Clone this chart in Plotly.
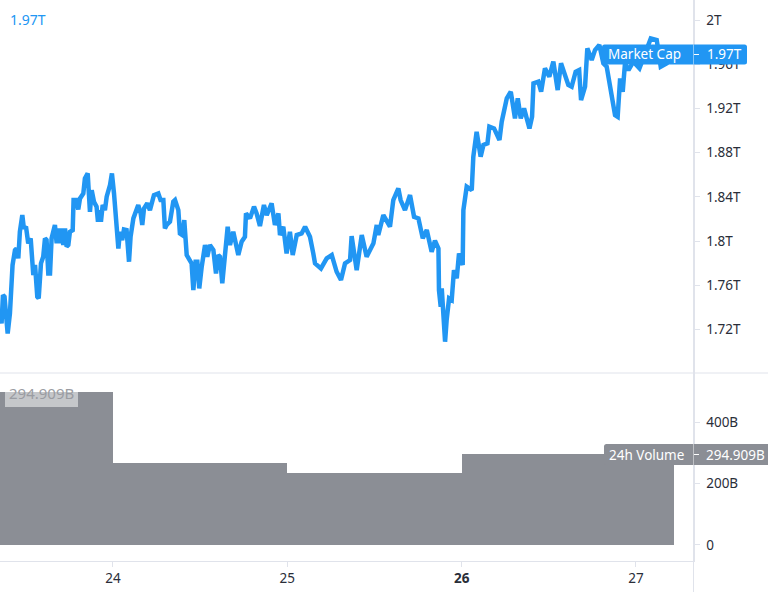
import plotly.graph_objects as go

W, H = 768, 592

cap_days = [23.352,23.361,23.369,23.378,23.386,23.396,23.409,23.421,23.424,23.438,23.447,23.457,23.466,23.480,23.489,23.501,23.514,23.528,23.537,23.543,23.553,23.566,23.574,23.581,23.587,23.600,23.610,23.619,23.629,23.639,23.648,23.667,23.677,23.686,23.696,23.705,23.715,23.725,23.734,23.744,23.753,23.769,23.774,23.788,23.801,23.811,23.830,23.839,23.855,23.868,23.878,23.891,23.906,23.914,23.925,23.931,23.941,23.954,23.964,23.983,23.994,24.006,24.015,24.031,24.040,24.053,24.063,24.078,24.092,24.101,24.117,24.126,24.145,24.159,24.168,24.178,24.197,24.212,24.235,24.260,24.273,24.289,24.298,24.308,24.327,24.346,24.356,24.375,24.384,24.398,24.409,24.423,24.451,24.461,24.474,24.484,24.495,24.509,24.528,24.541,24.556,24.576,24.591,24.604,24.614,24.627,24.643,24.658,24.671,24.690,24.719,24.738,24.757,24.763,24.786,
24.809,24.824,24.843,24.866,24.882,24.910,24.929,24.949,24.958,24.977,24.996,25.015,25.031,25.054,25.082,25.102,25.130,25.149,25.159,25.193,25.226,25.255,25.283,25.308,25.331,25.360,25.369,25.398,25.427,25.455,25.494,25.513,25.522,25.551,25.589,25.608,25.637,25.650,25.675,25.704,25.727,25.752,25.777,25.800,25.828,25.847,25.867,25.870,25.880,25.886,25.905,25.914,25.928,25.943,25.956,25.972,25.985,26.006,26.010,26.029,26.058,
26.067,26.086,26.109,26.125,26.148,26.159,26.186,26.201,26.217,26.230,26.259,26.282,26.306,26.322,26.339,26.358,26.389,26.404,26.412,26.440,26.456,26.478,26.503,26.526,26.551,26.570,26.593,26.612,26.631,26.654,26.674,26.685,26.708,26.721,26.746,26.765,26.790,26.813,26.832,26.855,26.880,26.895,26.909,26.924,26.937,26.957,26.985,27.020,27.043,27.085,27.119,27.142,27.177,27.215]

market_cap_t = [1.7345,1.7255,1.7511,1.7496,1.7345,1.7164,1.7345,1.7692,1.7783,1.7918,1.7933,1.7843,1.8084,1.8235,1.8114,1.8130,1.7979,1.8024,1.7798,1.7692,1.7783,1.7496,1.7481,1.7662,1.7798,1.7858,1.8024,1.8009,1.7707,1.7707,1.8024,1.8145,1.7979,1.8114,1.7979,1.8114,1.7964,1.8114,1.7949,1.7964,1.8084,1.8099,1.8371,1.8371,1.8286,1.8386,1.8431,1.8567,1.8612,1.8265,1.8461,1.8356,1.8311,1.8175,1.8280,1.8175,1.8326,1.8280,1.8401,1.8507,1.8612,1.8431,1.8190,1.7933,1.8084,1.8009,1.8105,1.8099,1.7813,1.8039,1.8205,1.8250,1.8326,1.8250,1.8145,1.8295,1.8341,1.8280,1.8416,1.8431,1.8371,1.8371,1.8114,1.8145,1.8175,1.8356,1.8371,1.8280,1.8069,1.8054,1.8190,1.7873,1.7798,1.7556,1.7813,1.7813,1.7571,1.7767,1.7964,1.7858,1.7964,1.7918,1.7707,1.7873,1.7858,1.7617,1.7949,1.8130,1.7964,1.8084,1.7873,1.7994,1.8039,1.8250,1.8205,
1.8311,1.8250,1.8136,1.8326,1.8235,1.8341,1.8145,1.8250,1.8054,1.8130,1.7888,1.8084,1.7873,1.8054,1.8069,1.8130,1.8039,1.7888,1.7798,1.7752,1.7843,1.7873,1.7722,1.7647,1.7798,1.7828,1.8045,1.7737,1.8054,1.7858,1.7979,1.8145,1.8054,1.8235,1.8130,1.8371,1.8477,1.8371,1.8280,1.8416,1.8220,1.8205,1.8024,1.8099,1.7903,1.8003,1.7933,1.7556,1.7406,1.7571,1.7089,1.7285,1.7481,1.7466,1.7737,1.7662,1.7888,1.7783,1.8280,1.8492,1.8461,
1.8763,1.8989,1.8763,1.8869,1.8884,1.9035,1.9019,1.8959,1.8914,1.9080,1.9291,1.9351,1.9110,1.9291,1.9110,1.9200,1.9019,1.9125,1.9427,1.9442,1.9351,1.9563,1.9487,1.9623,1.9366,1.9608,1.9487,1.9412,1.9397,1.9532,1.9547,1.9276,1.9397,1.9744,1.9638,1.9728,1.9774,1.9608,1.9578,1.9382,1.9140,1.9125,1.9472,1.9351,1.9608,1.9547,1.9623,1.9563,1.9668,1.9834,1.9819,1.9578,1.9608,1.9698]

volume_days = [23, 24, 25, 26, 27]
volume_spans = [1, 1, 1, 1, 0.218]
volume_b = [499, 267.5, 235, 294.9, 294.9]

day_ticks = [24, 25, 26, 27]
day_labels = ["24", "25", "<b>26</b>", "27"]
cap_ticks = [1.72, 1.76, 1.80, 1.84, 1.88, 1.92, 1.96, 2.00]
cap_labels = ["1.72T", "1.76T", "1.8T", "1.84T", "1.88T", "1.92T", "1.96T", "2T"]
vol_ticks = [0, 200, 400]
vol_labels = ["0", "200B", "400B"]

FONT = "Noto Sans"
BLUE = "#2196f3"
GREY = "#8b8e95"
INK = "#2a2e39"
RULE = "#e0e3eb"

fig = go.Figure()
fig.add_trace(go.Scatter(x=cap_days, y=market_cap_t, mode="lines", xaxis="x", yaxis="y",
                         line=dict(color=BLUE, width=4.5, shape="linear"), hoverinfo="skip"))
fig.add_trace(go.Bar(x=volume_days, y=volume_b, width=volume_spans, offset=0, xaxis="x2", yaxis="y2",
                     marker=dict(color=GREY, line=dict(width=0)), hoverinfo="skip"))

x_range = [23.352, 27.33]
pane_right = 693.5 / W
common_x = dict(range=x_range, showgrid=False, zeroline=False, fixedrange=True)


def px_x(v):
    return v / W


def px_y(v):
    return 1 - v / H


def pill(x0, x1, y0, y1, color, r=2.5):
    """Rounded label plate, given in page pixels."""
    pts = (f"M{px_x(x0 + r)},{px_y(y0)} L{px_x(x1 - r)},{px_y(y0)} Q{px_x(x1)},{px_y(y0)} {px_x(x1)},{px_y(y0 + r)} "
           f"L{px_x(x1)},{px_y(y1 - r)} Q{px_x(x1)},{px_y(y1)} {px_x(x1 - r)},{px_y(y1)} "
           f"L{px_x(x0 + r)},{px_y(y1)} Q{px_x(x0)},{px_y(y1)} {px_x(x0)},{px_y(y1 - r)} "
           f"L{px_x(x0)},{px_y(y0 + r)} Q{px_x(x0)},{px_y(y0)} {px_x(x0 + r)},{px_y(y0)} Z")
    return dict(type="path", xref="paper", yref="paper", path=pts, fillcolor=color, line=dict(width=0), layer="above")


def hline(x0, x1, y, color):
    return dict(type="line", xref="paper", yref="paper", x0=px_x(x0), x1=px_x(x1), y0=px_y(y), y1=px_y(y),
                line=dict(color=color, width=1), layer="above")


def vline(x, y0, y1, color):
    return dict(type="line", xref="paper", yref="paper", x0=px_x(x), x1=px_x(x), y0=px_y(y0), y1=px_y(y1),
                line=dict(color=color, width=1), layer="above")


def txt(text, x, y, size=13.5, color="#ffffff", anchor="left"):
    return dict(text=text, xref="paper", yref="paper", x=px_x(x), y=px_y(y), xanchor=anchor, yanchor="middle",
                showarrow=False, borderpad=0, font=dict(family=FONT, size=size, color=color))


fig.update_layout(
    width=W, height=H, autosize=False, showlegend=False, barmode="overlay", bargap=0,
    margin=dict(l=0, r=0, t=0, b=0), paper_bgcolor="#ffffff", plot_bgcolor="#ffffff",
    font=dict(family=FONT, size=13.5, color=INK),
    xaxis=dict(common_x, domain=[0, pane_right], anchor="y", showticklabels=False, ticks=""),
    yaxis=dict(domain=[1 - 373 / H, 1], range=[1.6806, 2.0181], side="right", anchor="x",
               tickmode="array", tickvals=cap_ticks, ticktext=cap_labels, ticks="outside", ticklen=5,
               tickcolor=RULE, showgrid=False, zeroline=False, showline=True, linecolor=RULE, fixedrange=True,
               ticklabelstandoff=4),
    xaxis2=dict(common_x, domain=[0, pane_right], anchor="y2", tickmode="array", tickvals=day_ticks,
                ticktext=day_labels, ticks="outside", ticklen=5, tickcolor=RULE, showline=True, linecolor=RULE),
    yaxis2=dict(domain=[1 - 561 / H, 1 - 373 / H], range=[-52.2, 560], side="right", anchor="x2",
                tickmode="array", tickvals=vol_ticks, ticktext=vol_labels, ticks="outside", ticklen=5,
                tickcolor=RULE, showgrid=False, zeroline=False, showline=True, linecolor=RULE, fixedrange=True,
                ticklabelstandoff=4),
    shapes=[
        hline(0, W, 373, RULE),
        vline(693.5, 0, H, RULE),
        pill(602, 747, 44.5, 64.5, BLUE),
        vline(693.5, 44.5, 64.5, "rgba(255,255,255,0.45)"),
        hline(694, 699, 54.5, "#ffffff"),
        pill(604, 780, 444, 465, GREY),
        vline(693.5, 444, 465, "rgba(255,255,255,0.45)"),
        hline(694, 699, 454.5, "#ffffff"),
        dict(type="rect", xref="paper", yref="paper", x0=px_x(5), x1=px_x(78), y0=px_y(381), y1=px_y(407),
             fillcolor="rgba(255,255,255,0.5)", line=dict(width=0), layer="above"),
    ],
    annotations=[
        txt("Market Cap", 607, 54),
        txt("1.97T", 705.5, 54),
        txt("24h Volume", 608, 454.5),
        txt("294.909B", 704.5, 454.5),
        txt("1.97T", 9, 19, size=14, color=BLUE),
        txt("294.909B", 8, 393, size=15, color="#9a9ca2"),
    ],
)

fig.write_html("out.html", config=dict(displayModeBar=False),
               post_script="document.body.style.margin='0';document.body.style.overflow='hidden';")
